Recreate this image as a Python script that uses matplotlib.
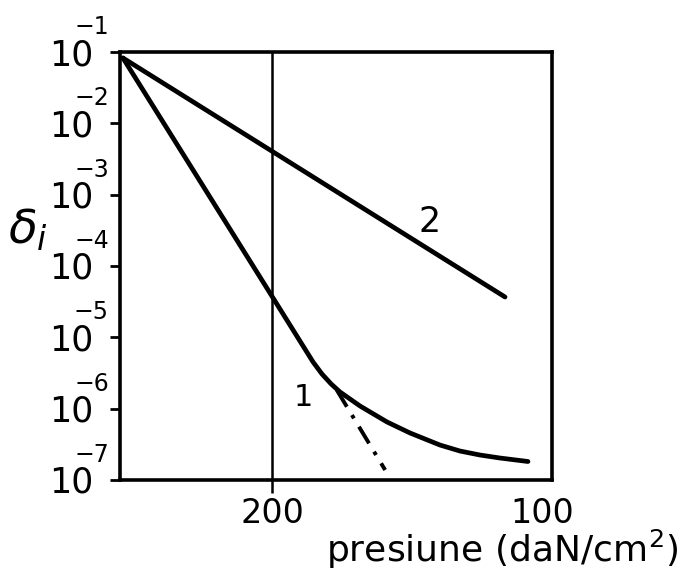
import numpy as np
import matplotlib
matplotlib.use("Agg")
import matplotlib.pyplot as plt

# values (pressure in daN/cm2, delta_i on log scale)
p_curve1 = [255.2, 199.6, 184.8, 181.5, 178.1, 174.8, 167.4, 157.4, 148.9,
            137.8, 130.4, 123.0, 115.6, 105.2]
log_d_curve1 = [-1.084, -4.449, -5.346, -5.514, -5.654, -5.767, -5.963, -6.187,
                -6.341, -6.510, -6.594, -6.650, -6.692, -6.741]
d_curve1 = [10**v for v in log_d_curve1]

p_extrap = [176.0, 158.1]
d_extrap = [10**-5.74, 10**-6.860]

p_curve2 = [255.2, 113.7]
d_curve2 = [10**-1.084, 10**-4.435]

y_exponents = [-1, -2, -3, -4, -5, -6, -7]
x_ticks = [200, 100]
x_ticklabels = ["200", "100"]

fig = plt.figure(figsize=(6.81, 5.74), dpi=100)
ax = fig.add_axes([0.1762, 0.1638, 0.6344, 0.7456])

ax.set_yscale("log")
ax.set_xlim(256.3, 96.3)
ax.set_ylim(1e-7, 1e-1)

lw = 3.4
ax.plot(p_curve1, d_curve1, color="black", lw=lw, solid_capstyle="round",
        solid_joinstyle="round")
ax.plot(p_extrap, d_extrap, color="black", lw=lw - 0.6, dashes=[5, 2.5, 1, 2.5])
ax.plot(p_curve2, d_curve2, color="black", lw=lw, solid_capstyle="round")
ax.axvline(200, color="black", lw=1.8)

ax.text(188.5, 10**-5.837, "1", fontsize=22, ha="center", va="center")
ax.text(141.5, 10**-3.383, "2", fontsize=25, ha="center", va="center")

for s in ax.spines.values():
    s.set_linewidth(2.6)

# y axis: decade ticks, labels hand-placed like the original lettering
ax.set_yticks([10.0**e for e in y_exponents])
ax.set_yticklabels([])
ax.minorticks_off()
ax.tick_params(axis="y", direction="out", length=7, width=2)
for e in y_exponents:
    ax.annotate("10", xy=(0, 10.0**e), xycoords=("axes fraction", "data"),
                xytext=(-27, -3), textcoords="offset pixels",
                ha="right", va="center", fontsize=25)
    ax.annotate("\u2212" + str(-e), xy=(0, 10.0**e), xycoords=("axes fraction", "data"),
                xytext=(-11, 25), textcoords="offset pixels",
                ha="right", va="center", fontsize=17)

ax.set_xticks(x_ticks)
ax.set_xticklabels(x_ticklabels, fontsize=24)
ax.tick_params(axis="x", direction="out", length=9, width=1.8, pad=3)
ax.xaxis.get_major_ticks()[1].tick1line.set_visible(False)

fig.text(678 / 681, 1 - 549 / 574, "presiune (daN/cm$^2$)", fontsize=26,
         ha="right", va="center")
fig.text(28 / 681, 1 - 230 / 574, r"$\delta_i$", fontsize=34,
         ha="center", va="center")

fig.savefig("out.png", dpi=100)
